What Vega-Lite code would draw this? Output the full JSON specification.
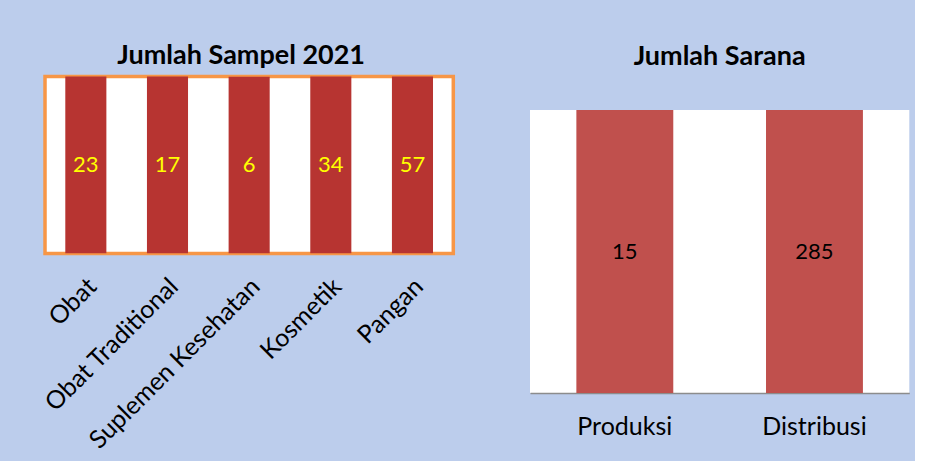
{
  "$schema": "https://vega.github.io/schema/vega-lite/v6.json",
  "background": "#bccdec",
  "padding": {"left": 38, "top": 40.6, "right": 5, "bottom": 5},
  "spacing": 74,
  "config": {
    "view": {"stroke": null},
    "title": {"font": "Lato", "fontWeight": "bold", "fontSize": 27, "color": "#000000"}
  },
  "hconcat": [
    {
      "width": 408.3,
      "height": 177,
      "view": {"fill": "#ffffff", "stroke": "#f79646", "strokeWidth": 3.5},
      "title": {"text": "Jumlah Sampel 2021", "offset": 6.1, "dx": -8},
      "data": {"values": [
        {"kategori": "Obat", "jumlah": 23},
        {"kategori": "Obat Traditional", "jumlah": 17},
        {"kategori": "Suplemen Kesehatan", "jumlah": 6},
        {"kategori": "Kosmetik", "jumlah": 34},
        {"kategori": "Pangan", "jumlah": 57}
      ]},
      "layer": [
        {
          "mark": {"type": "bar", "width": {"band": 0.503}, "clip": true, "color": "#b73431"},
          "encoding": {
            "x": {
              "field": "kategori", "type": "nominal", "sort": null,
              "scale": {"paddingInner": 0, "paddingOuter": 0},
              "axis": {"title": null, "domain": false, "ticks": false, "grid": false, "labelAngle": -45, "labelAlign": "right", "labelBaseline": "top", "labelFont": "Lato", "labelFontSize": 25, "labelColor": "#000000", "labelPadding": 20, "labelOffset": -2, "labelLimit": 400}
            },
            "y": {"field": "jumlah", "type": "quantitative", "scale": {"domain": [0, 6], "nice": false}, "axis": null}
          }
        },
        {
          "mark": {"type": "text", "font": "Lato", "fontSize": 22, "color": "#ffff00", "baseline": "middle", "align": "center"},
          "encoding": {
            "x": {"field": "kategori", "type": "nominal", "sort": null},
            "y": {"datum": 3, "type": "quantitative"},
            "text": {"field": "jumlah", "type": "quantitative"}
          }
        }
      ]
    },
    {
      "title": {"text": "Jumlah Sarana", "offset": 5.8, "anchor": "middle"},
      "spacing": 32.5,
      "vconcat": [
        {
          "width": 379.3,
          "height": 1,
          "data": {"values": []},
          "mark": "text"
        },
        {
          "width": 379.3,
          "height": 283,
          "view": {"fill": "#ffffff", "stroke": null},
          "data": {"values": [
            {"sarana": "Produksi", "jumlah": 15},
            {"sarana": "Distribusi", "jumlah": 285}
          ]},
          "layer": [
            {
              "mark": {"type": "bar", "width": {"band": 0.511}, "clip": true, "color": "#c0504d"},
              "encoding": {
                "x": {
                  "field": "sarana", "type": "nominal", "sort": null,
                  "scale": {"paddingInner": 0, "paddingOuter": 0},
                  "axis": {"title": null, "domain": true, "domainColor": "#8c8c8c", "domainWidth": 1.5, "ticks": false, "grid": false, "labelAngle": 0, "labelFont": "Lato", "labelFontSize": 25, "labelColor": "#000000", "labelPadding": 21}
                },
                "y": {"field": "jumlah", "type": "quantitative", "scale": {"domain": [0, 15], "nice": false}, "axis": null}
              }
            },
            {
              "mark": {"type": "text", "font": "Lato", "fontSize": 22, "color": "#000000", "baseline": "middle", "align": "center"},
              "encoding": {
                "x": {"field": "sarana", "type": "nominal", "sort": null},
                "y": {"datum": 7.5, "type": "quantitative"},
                "text": {"field": "jumlah", "type": "quantitative"}
              }
            }
          ]
        }
      ]
    }
  ]
}
